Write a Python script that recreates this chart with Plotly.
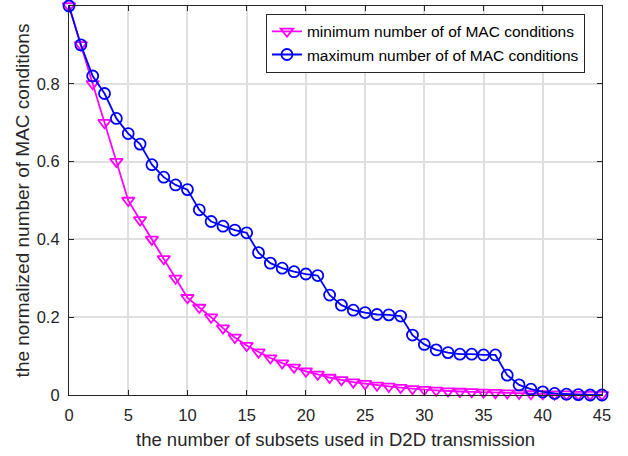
import plotly.graph_objects as go

x_vals = list(range(0, 46))

min_vals = [1.0, 0.9, 0.8, 0.7, 0.6, 0.5, 0.45, 0.4, 0.35, 0.3,
            0.25, 0.225, 0.2, 0.172, 0.148, 0.127, 0.11, 0.095, 0.082, 0.071,
            0.061, 0.053, 0.045, 0.039, 0.033, 0.029, 0.025, 0.022, 0.019, 0.016,
            0.014, 0.012, 0.010, 0.009, 0.008, 0.007, 0.006, 0.005, 0.004, 0.003,
            0.003, 0.002, 0.002, 0.001, 0.001, 0.001]

max_vals = [1.0, 0.9, 0.82, 0.775, 0.711, 0.672, 0.645, 0.592, 0.56, 0.54,
            0.528, 0.476, 0.446, 0.434, 0.424, 0.417, 0.366, 0.339, 0.326, 0.317,
            0.311, 0.307, 0.257, 0.231, 0.218, 0.212, 0.207, 0.206, 0.203, 0.154,
            0.13, 0.116, 0.109, 0.105, 0.105, 0.103, 0.103, 0.051, 0.026, 0.015,
            0.008, 0.004, 0.002, 0.001, 0.0, 0.0]

x_ticks = [0, 5, 10, 15, 20, 25, 30, 35, 40, 45]
y_ticks = [0, 0.2, 0.4, 0.6, 0.8, 1]
y_tick_labels = ["0", "0.2", "0.4", "0.6", "0.8", "1"]

font_family = "Liberation Sans, Arial, sans-serif"
text_col = "#262626"

fig = go.Figure()
fig.add_trace(go.Scatter(
    x=x_vals, y=min_vals, mode="lines+markers",
    name="minimum number of of MAC conditions",
    line=dict(color="#ff00ff", width=1.8),
    marker=dict(symbol="triangle-down-open", size=11, color="#ff00ff",
                line=dict(width=1.8, color="#ff00ff")),
    cliponaxis=False,
))
fig.add_trace(go.Scatter(
    x=x_vals, y=max_vals, mode="lines+markers",
    name="maximum number of of MAC conditions",
    line=dict(color="#0000ff", width=1.8),
    marker=dict(symbol="circle-open", size=11, color="#0000ff",
                line=dict(width=1.8, color="#0000ff")),
    cliponaxis=False,
))

axis_common = dict(
    showline=True, linecolor=text_col, linewidth=1.2, mirror="ticks",
    ticks="inside", ticklen=5, tickcolor=text_col, tickwidth=1,
    showgrid=True, gridcolor="#dfdfdf", gridwidth=1.5,
    zeroline=False, automargin=False,
    tickfont=dict(family=font_family, size=16.5, color=text_col),
)

fig.update_layout(
    width=628, height=456,
    margin=dict(l=69, r=26, t=6, b=61),
    plot_bgcolor="white", paper_bgcolor="white",
    font=dict(family=font_family, color=text_col),
    xaxis=dict(range=[0, 45], tickvals=x_ticks, ticklabelstandoff=5,
               title=dict(text="the number of subsets used in D2D transmission",
                          font=dict(family=font_family, size=18.5, color=text_col),
                          standoff=10),
               **axis_common),
    yaxis=dict(range=[0, 1], tickvals=y_ticks, ticktext=y_tick_labels,
               ticklabelstandoff=5,
               title=dict(text="the normalized number of MAC conditions",
                          font=dict(family=font_family, size=19, color=text_col),
                          standoff=2),
               **axis_common),
    legend=dict(x=0.968, y=0.98, xanchor="right", yanchor="top",
                bgcolor="white", bordercolor=text_col, borderwidth=1,
                font=dict(family=font_family, size=15.5, color="black"),
                tracegroupgap=0, itemwidth=30),
    showlegend=True,
)

fig.write_html("out.html",
               config={"displayModeBar": False},
               post_script="document.body.style.margin='0';document.body.style.overflow='hidden';")
